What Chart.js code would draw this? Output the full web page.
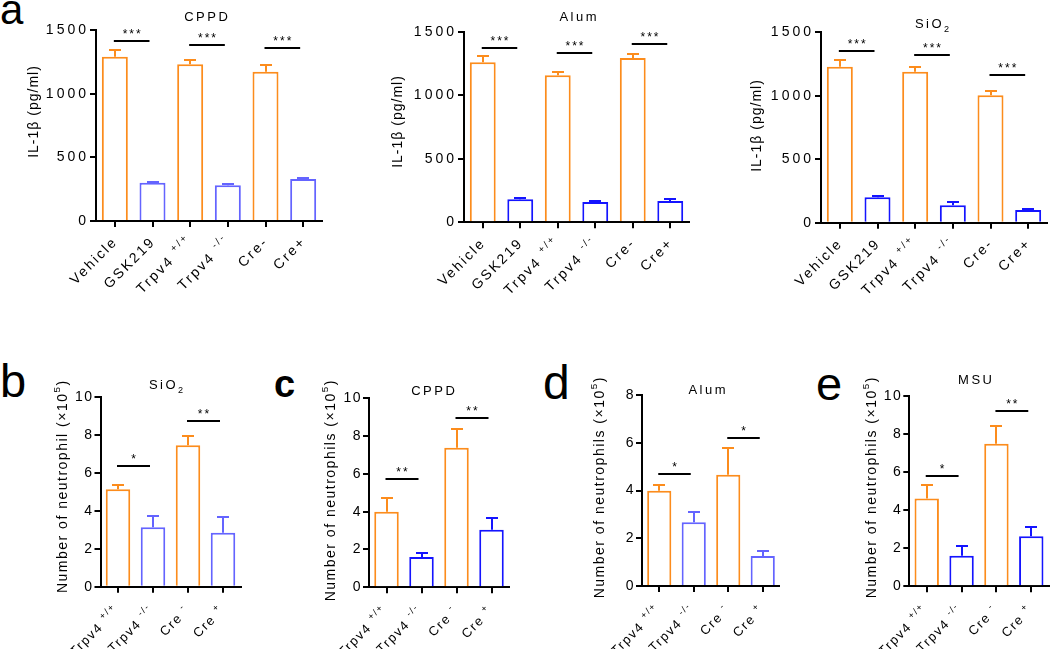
<!DOCTYPE html>
<html>
<head>
<meta charset="utf-8">
<script src="https://cdn.jsdelivr.net/npm/chart.js@4.4.0/dist/chart.umd.min.js"></script>
<style>
  body { margin: 0; background: #fff; width: 1050px; height: 649px; position: relative; overflow: hidden; font-family: "Liberation Sans", Arial, sans-serif; }
  .letter { position: absolute; line-height: 1; color: #000; }
</style>
</head>
<body>
<div class="letter" style="left:0px;top:-11px;font-size:42px">a</div>
<div class="letter" style="left:0px;top:357px;font-size:47px">b</div>
<div class="letter" style="left:274px;top:365px;font-size:38px;font-weight:bold">c</div>
<div class="letter" style="left:543px;top:359px;font-size:48px">d</div>
<div class="letter" style="left:816px;top:360px;font-size:47px">e</div>
<script>
// categories
const topCategories = ["Vehicle", "GSK219", "Trpv4", "Trpv4", "Cre-", "Cre+"];
const topSuperscripts = ["", "", "+/+", "-/-", "", ""];
const bottomCategories = ["Trpv4", "Trpv4", "Cre", "Cre"];
const bottomSuperscripts = ["+/+", "-/-", "-", "+"];

// tick labels
const il1bTicks = [0, 500, 1000, 1500];
const neutTicks10 = [0, 2, 4, 6, 8, 10];
const neutTicks8 = [0, 2, 4, 6, 8];

// panel a: IL-1b (pg/ml), mean and upper SEM
const cppdIL1b = [1290, 301, 1231, 280, 1173, 330];
const cppdIL1bSem = [53, 5, 33, 8, 52, 6];
const cppdIL1bSig = [1416, 1382, 1356];
const alumIL1b = [1259, 181, 1157, 160, 1293, 168];
const alumIL1bSem = [50, 10, 28, 10, 29, 15];
const alumIL1bSig = [1369, 1335, 1403];
const sio2IL1b = [1229, 200, 1190, 137, 1004, 100];
const sio2IL1bSem = [53, 10, 34, 24, 31, 8];
const sio2IL1bSig = [1355, 1321, 1164];
const il1bStars = ["***", "***", "***"];

// panels b-e: neutrophils (x10^5)
const sio2Neut = [5.13, 3.13, 7.44, 2.84];
const sio2NeutSem = [0.22, 0.59, 0.49, 0.84];
const sio2NeutSig = [6.35, 8.72];
const sio2NeutStars = ["*", "**"];
const cppdNeut = [4.0, 1.6, 7.39, 3.05];
const cppdNeutSem = [0.74, 0.23, 1.0, 0.6];
const cppdNeutSig = [5.71, 8.96];
const cppdNeutStars = ["**", "**"];
const alumNeut = [3.99, 2.67, 4.66, 1.26];
const alumNeutSem = [0.25, 0.43, 1.11, 0.21];
const alumNeutSig = [4.68, 6.19];
const alumNeutStars = ["*", "*"];
const msuNeut = [4.62, 1.61, 7.49, 2.63];
const msuNeutSem = [0.70, 0.52, 0.95, 0.50];
const msuNeutSig = [5.80, 9.21];
const msuNeutStars = ["*", "**"];

const FONT = '"Liberation Sans", Arial, sans-serif';
const ORANGE = "#FC8C1C";
const BLUE = "#1414FF";
const LIGHT_BLUE = "#6464FF";
const Y_AXIS_WIDTH = 50;

function partWidth(ctx, part, size, spacing) {
    const s = part.sup || part.sub ? size * 0.7 : size;
    ctx.font = s + "px " + FONT;
    ctx.letterSpacing = "0px";
    return ctx.measureText(part.text).width + spacing * part.text.length;
}

// draws text pieces (with super/subscripts) along a baseline at (x, y)
function drawRich(ctx, parts, x, y, size, spacing, align) {
    let total = -spacing;
    parts.forEach((p) => { total += partWidth(ctx, p, size, spacing); });
    let cx = align === "right" ? x - total : align === "center" ? x - total / 2 : x;
    ctx.textAlign = "left";
    ctx.textBaseline = "alphabetic";
    ctx.fillStyle = "#000";
    parts.forEach((p) => {
        const w = partWidth(ctx, p, size, spacing);
        const dy = p.sup ? -size * 0.5 : p.sub ? size * 0.3 : 0;
        ctx.letterSpacing = spacing + "px";
        ctx.fillText(p.text, cx, y + dy);
        cx += w;
    });
}

function labelParts(base, sup) {
    if (!sup) return [{ text: base }];
    return [{ text: base + " " }, { text: sup, sup: true }];
}

function makePanel(p) {
    const [bx, by, bw, bh] = p.box;
    const canvas = document.createElement("canvas");
    canvas.width = bw;
    canvas.height = bh;
    canvas.style.cssText = `position:absolute;left:${bx}px;top:${by}px;width:${bw}px;height:${bh}px`;
    document.body.appendChild(canvas);

    const colors = p.values.map((v, i) => (i % 2 === 0 ? ORANGE : p.blue));
    const ticks = p.ticks;

    const decor = {
        id: "decor",
        beforeDraw(chart) {
            chart.ctx.letterSpacing = p.tickSpacing + "px";
        },
        afterDraw(chart) {
            const ctx = chart.ctx;
            const xs = chart.scales.x;
            const ys = chart.scales.y;
            ctx.save();

            // error bars (upper only)
            ctx.lineWidth = 2;
            p.values.forEach((v, i) => {
                const x = Math.round(xs.getPixelForValue(i));
                const y0 = ys.getPixelForValue(v);
                const y1 = Math.round(ys.getPixelForValue(v + p.errors[i]));
                ctx.strokeStyle = colors[i];
                ctx.beginPath();
                ctx.moveTo(x, y0);
                ctx.lineTo(x, y1);
                ctx.moveTo(x - 6, y1);
                ctx.lineTo(x + 6, y1);
                ctx.stroke();
            });

            // significance bars
            ctx.strokeStyle = "#000";
            p.sig.forEach((sv, k) => {
                const x1 = xs.getPixelForValue(2 * k) - 1;
                const x2 = xs.getPixelForValue(2 * k + 1) - 3;
                const y = Math.round(ys.getPixelForValue(sv));
                ctx.beginPath();
                ctx.moveTo(x1, y);
                ctx.lineTo(x2, y);
                ctx.stroke();
                drawRich(ctx, [{ text: p.stars[k] }], (x1 + x2) / 2, y - 3, 12, 2, "center");
            });

            // rotated category labels
            const axisY = chart.chartArea.bottom;
            p.labels.forEach((lab, i) => {
                const x = xs.getPixelForValue(i);
                ctx.save();
                ctx.translate(x + p.labelShift[0], axisY + p.labelShift[1]);
                ctx.rotate(-Math.PI / 4);
                drawRich(ctx, labelParts(lab, p.sups[i]), 0, 0, p.labelSize, p.labelSpacing, "right");
                ctx.restore();
            });

            // panel title
            drawRich(ctx, p.title, p.titlePos[0] - bx, p.titlePos[1] - by + 4.7, 13, 2.5, "center");

            // y axis title
            ctx.save();
            ctx.translate(p.yTitlePos[0] - bx, p.yTitlePos[1] - by);
            ctx.rotate(-Math.PI / 2);
            drawRich(ctx, p.yTitle, 0, p.yTitleSize * 0.36, p.yTitleSize, p.yTitleSpacing, "center");
            ctx.restore();

            ctx.restore();
        },
    };

    new Chart(canvas.getContext("2d"), {
        type: "bar",
        data: {
            labels: p.labels.map((l, i) => l + (p.sups[i] ? " " + p.sups[i] : "")),
            datasets: [
                {
                    data: p.values,
                    backgroundColor: "#ffffff",
                    borderColor: colors,
                    borderWidth: 2,
                    barPercentage: p.barPct,
                    categoryPercentage: 1,
                },
            ],
        },
        options: {
            responsive: false,
            animation: false,
            events: [],
            layout: {
                padding: {
                    left: p.area.l - bx - Y_AXIS_WIDTH,
                    top: p.area.t - by,
                    right: bx + bw - p.area.r,
                    bottom: by + bh - p.area.b,
                },
            },
            plugins: {
                legend: { display: false },
                tooltip: { enabled: false },
            },
            scales: {
                x: {
                    ticks: { display: false },
                    grid: { drawOnChartArea: false, offset: false, tickLength: 6, lineWidth: 2, color: "#000" },
                    border: { color: "#000", width: 2 },
                    afterFit: (s) => { s.height = 0; },
                },
                y: {
                    min: ticks[0],
                    max: ticks[ticks.length - 1],
                    ticks: {
                        stepSize: ticks[1] - ticks[0],
                        color: "#000",
                        padding: 1,
                        font: { family: FONT, size: p.tickSize },
                        callback: (v) => String(v),
                    },
                    grid: { drawOnChartArea: false, tickLength: 6, lineWidth: 2, color: "#000" },
                    border: { color: "#000", width: 2 },
                    afterFit: (s) => { s.width = Y_AXIS_WIDTH; },
                },
            },
        },
        plugins: [decor],
    });
}

const il1bTitle = [{ text: "IL-1β (pg/ml)" }];
const neutTitle = (word) => [{ text: "Number of " + word + " (×10" }, { text: "5", sup: true }, { text: ")" }];
const sio2Title = [{ text: "SiO" }, { text: "2", sub: true }];

const topStyle = {
    labels: topCategories, sups: topSuperscripts, ticks: il1bTicks,
    tickSize: 14, tickSpacing: 3, labelSize: 14, labelSpacing: 2.2, labelShift: [2, 23],
    barPct: 0.69, yTitle: il1bTitle, yTitleSize: 14, yTitleSpacing: 1, stars: il1bStars,
};
const bottomStyle = {
    labels: bottomCategories, sups: bottomSuperscripts,
    tickSize: 14, tickSpacing: 1.5, labelSize: 13, labelSpacing: 1.6, labelShift: [1, 26],
    barPct: 0.7, yTitleSize: 14, yTitleSpacing: 1.5,
};

makePanel({
    ...topStyle,
    box: [0, 0, 350, 320], area: { l: 96, r: 322, t: 30, b: 221 },
    values: cppdIL1b, errors: cppdIL1bSem, sig: cppdIL1bSig, blue: LIGHT_BLUE,
    title: [{ text: "CPPD" }], titlePos: [206, 16], yTitlePos: [33, 112],
});
makePanel({
    ...topStyle,
    box: [350, 0, 350, 320], area: { l: 464, r: 689, t: 31.7, b: 222.3 },
    values: alumIL1b, errors: alumIL1bSem, sig: alumIL1bSig, blue: BLUE,
    title: [{ text: "Alum" }], titlePos: [578, 16], yTitlePos: [397, 122],
});
makePanel({
    ...topStyle,
    box: [700, 0, 350, 320], area: { l: 821, r: 1047, t: 32.3, b: 222.7 },
    values: sio2IL1b, errors: sio2IL1bSem, sig: sio2IL1bSig, blue: BLUE,
    title: sio2Title, titlePos: [932, 23], yTitlePos: [756, 126],
});
makePanel({
    ...bottomStyle,
    box: [0, 330, 260, 319], area: { l: 100.5, r: 240.5, t: 396.7, b: 586.7 }, ticks: neutTicks10,
    values: sio2Neut, errors: sio2NeutSem, sig: sio2NeutSig, stars: sio2NeutStars, blue: LIGHT_BLUE,
    title: sio2Title, titlePos: [166, 384],
    yTitle: neutTitle("neutrophil"), yTitlePos: [62, 487],
});
makePanel({
    ...bottomStyle,
    box: [260, 330, 260, 319], area: { l: 369, r: 509, t: 398.3, b: 587.3 }, ticks: neutTicks10,
    values: cppdNeut, errors: cppdNeutSem, sig: cppdNeutSig, stars: cppdNeutStars, blue: BLUE,
    title: [{ text: "CPPD" }], titlePos: [433, 390],
    yTitle: neutTitle("neutrophils"), yTitlePos: [330, 491],
});
makePanel({
    ...bottomStyle,
    box: [520, 330, 260, 319], area: { l: 642, r: 780, t: 395, b: 586 }, ticks: neutTicks8,
    values: alumNeut, errors: alumNeutSem, sig: alumNeutSig, stars: alumNeutStars, blue: LIGHT_BLUE,
    title: [{ text: "Alum" }], titlePos: [707, 389],
    yTitle: neutTitle("neutrophils"), yTitlePos: [599, 488],
});
makePanel({
    ...bottomStyle,
    box: [780, 330, 270, 319], area: { l: 909.3, r: 1048.7, t: 396, b: 586.3 }, ticks: neutTicks10,
    values: msuNeut, errors: msuNeutSem, sig: msuNeutSig, stars: msuNeutStars, blue: BLUE,
    title: [{ text: "MSU" }], titlePos: [975, 379],
    yTitle: neutTitle("neutrophils"), yTitlePos: [871, 488],
});
</script>
</body>
</html>
